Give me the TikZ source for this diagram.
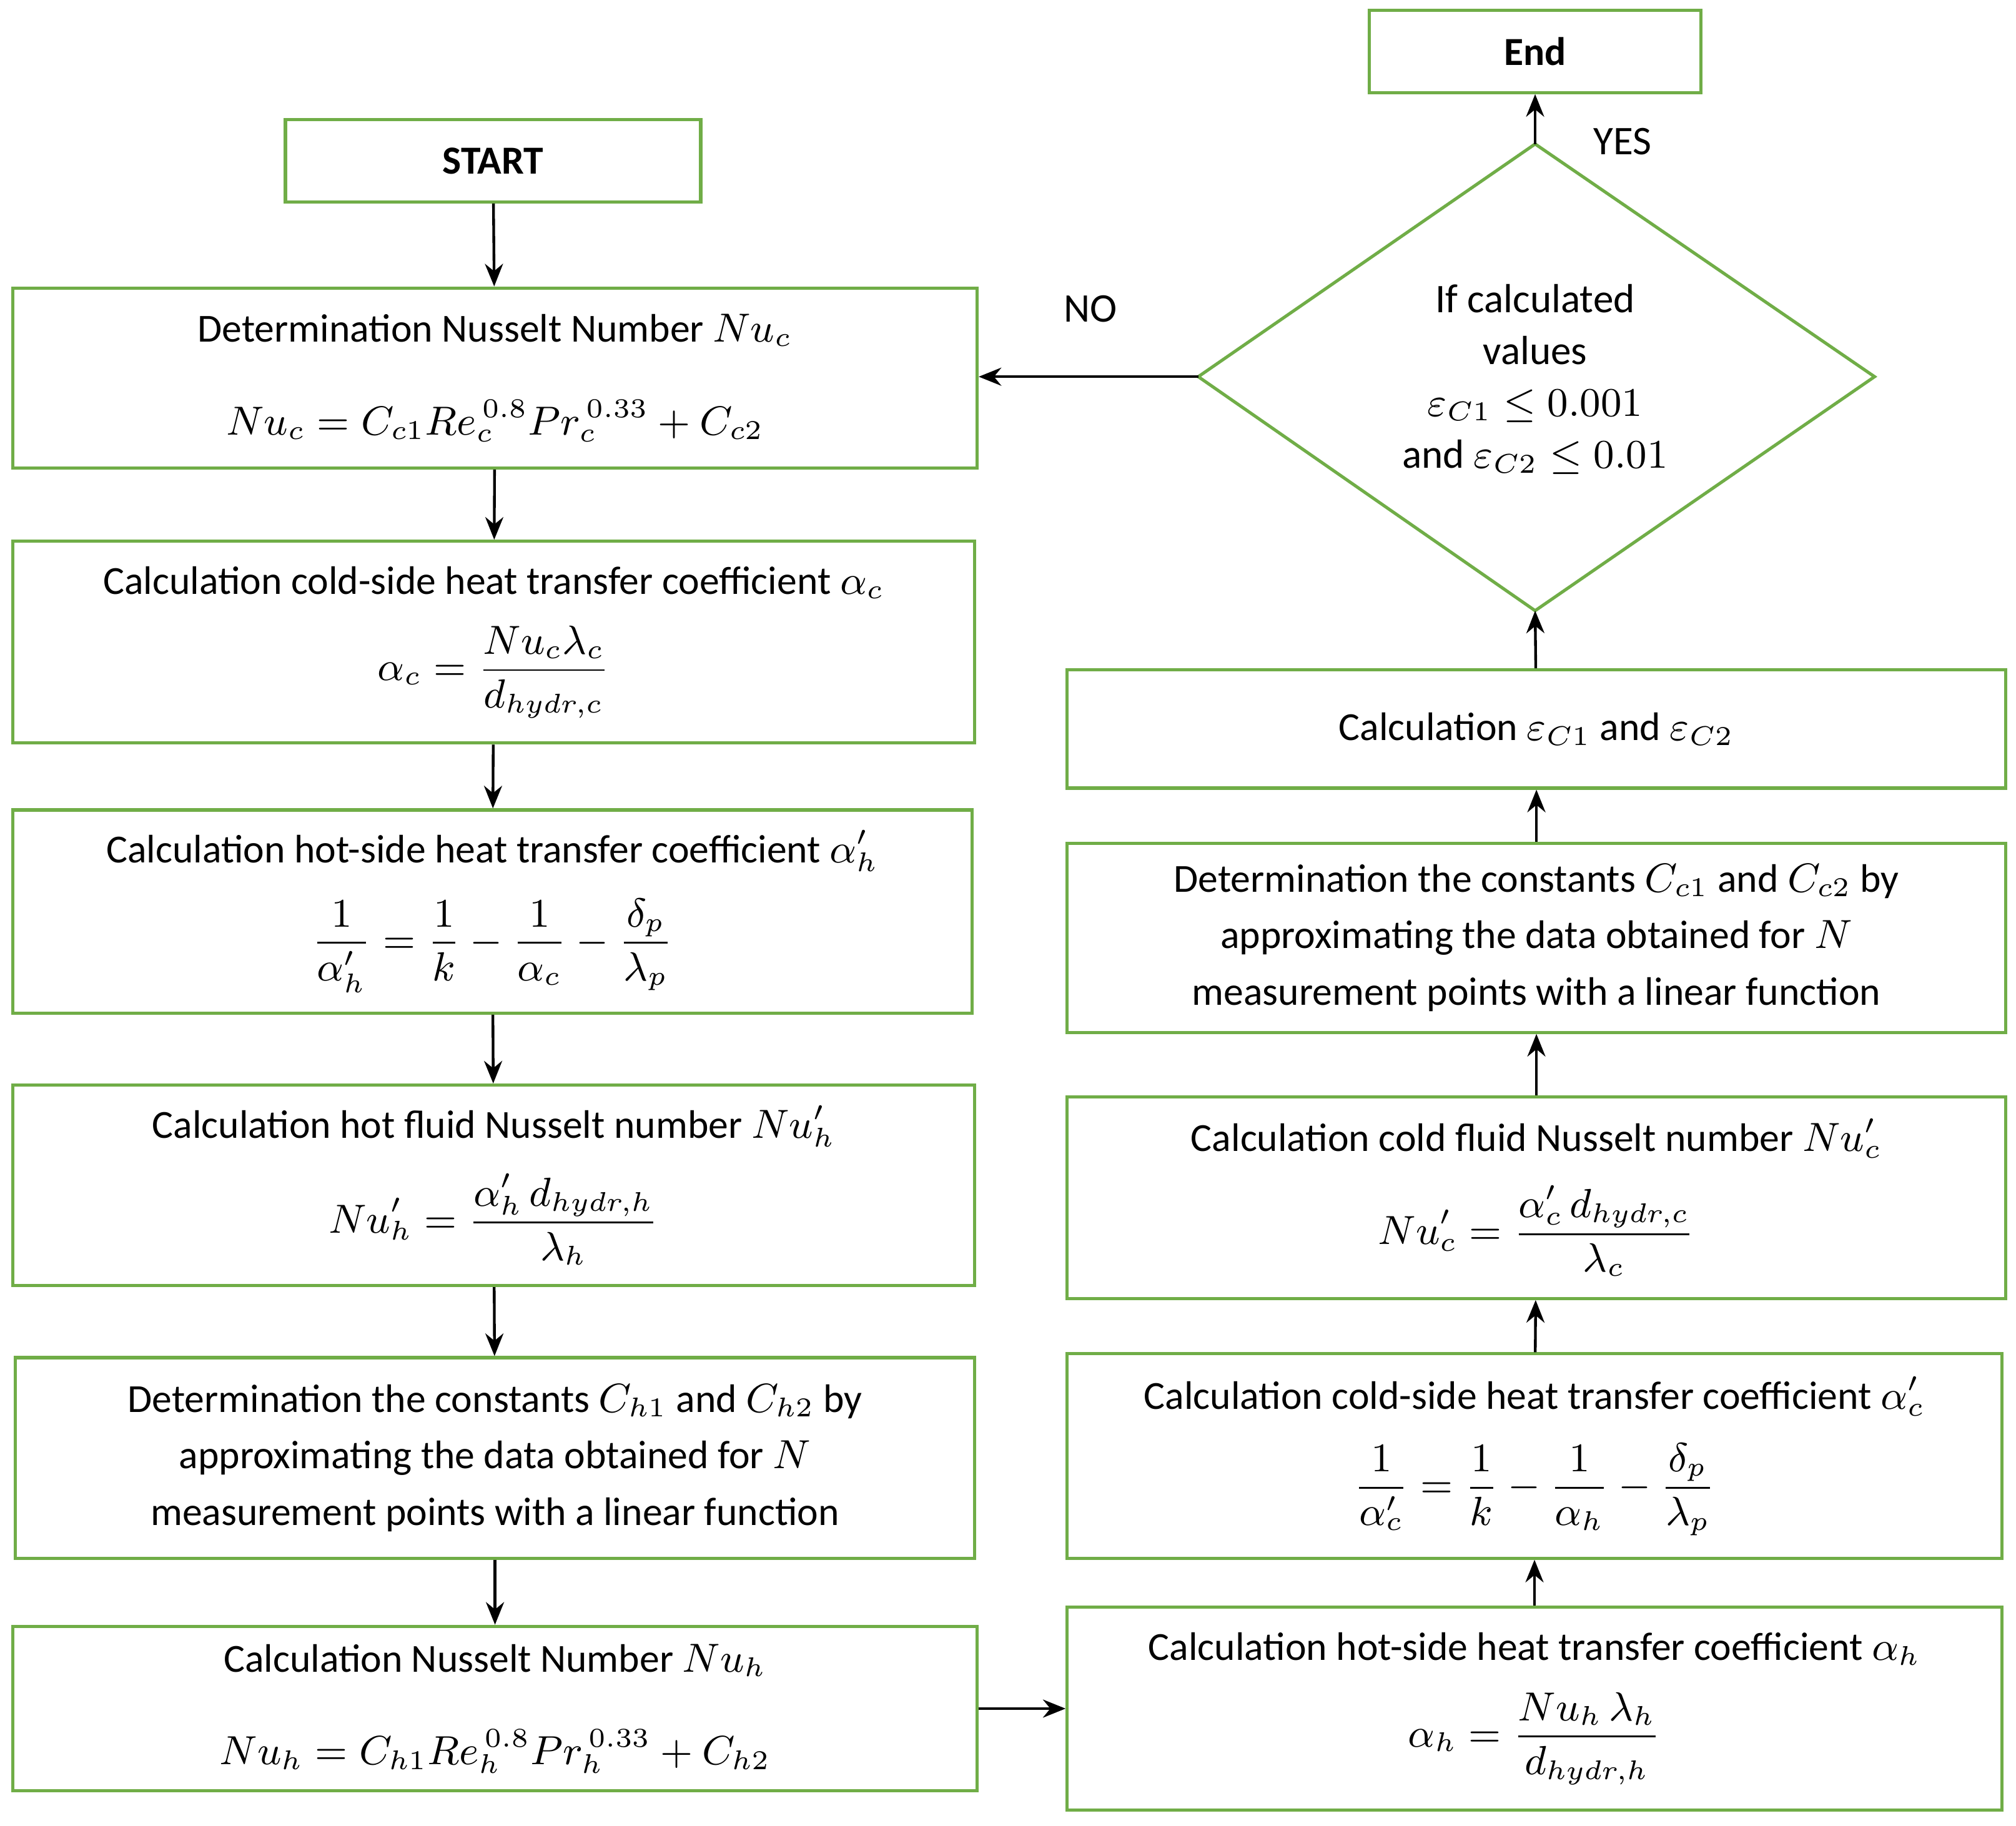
\documentclass[tikz,border=0pt]{standalone}
\usepackage{fontspec}
\setmainfont{Carlito}
\usetikzlibrary{arrows.meta,shapes.geometric}
\definecolor{gr}{RGB}{112,173,71}
\begin{document}
\begin{tikzpicture}[x=0.01cm,y=-0.01cm,
  box/.style={draw=gr,line width=0.7pt,align=center,inner sep=0pt,font=\fontsize{8.8}{12.5}\selectfont},
  arr/.style={-{Stealth[length=5pt,width=4pt]},line width=0.6pt,black},
  lbl/.style={font=\fontsize{9}{11.5}\selectfont}]
\useasboundingbox (0,0) rectangle (1568,1420);
\newcommand{\bx}[6]{\node[box,minimum width={(#4-#2)*0.01cm},minimum height={(#5-#3)*0.01cm}] (#1) at ({(#2+#4)/2},{(#3+#5)/2}) {#6};}
\bx{end}{1065}{8}{1323}{72}{\textbf{End}}
\bx{start}{222}{93}{545}{157}{\textbf{START}}
\bx{nuc}{10}{224}{760}{364}{Determination Nusselt Number $Nu_c$\\[8pt] $Nu_c=C_{c1}Re_c^{\,0.8}Pr_c^{\,0.33}+C_{c2}$}
\bx{ac}{10}{421}{758}{578}{Calculation cold-side heat transfer coefficient $\alpha_c$\\[5pt] $\displaystyle\alpha_c=\frac{Nu_c\lambda_c}{d_{hydr,c}}$}
\bx{ahp}{10}{630}{756}{788}{Calculation hot-side heat transfer coefficient $\alpha'_h$\\[5pt] $\displaystyle\frac{1}{\alpha'_h}=\frac{1}{k}-\frac{1}{\alpha_c}-\frac{\delta_p}{\lambda_p}$}
\bx{nuhp}{10}{844}{758}{1000}{Calculation hot fluid Nusselt number $Nu'_h$\\[5pt] $\displaystyle Nu'_h=\frac{\alpha'_h\,d_{hydr,h}}{\lambda_h}$}
\bx{ch}{12}{1056}{758}{1212}{Determination the constants $C_{h1}$ and $C_{h2}$ by\\ approximating the data obtained for $N$\\ measurement points with a linear function}
\bx{nuh}{10}{1265}{760}{1393}{Calculation Nusselt Number $Nu_h$\\[8pt] $Nu_h=C_{h1}Re_h^{\,0.8}Pr_h^{\,0.33}+C_{h2}$}
\bx{ah}{830}{1250}{1557}{1408}{Calculation hot-side heat transfer coefficient $\alpha_h$\\[5pt] $\displaystyle\alpha_h=\frac{Nu_h\,\lambda_h}{d_{hydr,h}}$}
\bx{acp}{830}{1053}{1557}{1212}{Calculation cold-side heat transfer coefficient $\alpha'_c$\\[5pt] $\displaystyle\frac{1}{\alpha'_c}=\frac{1}{k}-\frac{1}{\alpha_h}-\frac{\delta_p}{\lambda_p}$}
\bx{nucp}{830}{853}{1560}{1010}{Calculation cold fluid Nusselt number $Nu'_c$\\[5pt] $\displaystyle Nu'_c=\frac{\alpha'_c\,d_{hydr,c}}{\lambda_c}$}
\bx{cc}{830}{656}{1560}{803}{Determination the constants $C_{c1}$ and $C_{c2}$ by\\ approximating the data obtained for $N$\\ measurement points with a linear function}
\bx{eps}{830}{521}{1560}{613}{Calculation $\varepsilon_{C1}$ and $\varepsilon_{C2}$}
\coordinate (dt) at (1194,112); \coordinate (db) at (1194,475);
\coordinate (dl) at (932,293); \coordinate (dr) at (1458,293);
\draw[gr,line width=0.7pt] (dt) -- (dr) -- (db) -- (dl) -- cycle;
\node[lbl,align=center] (dtxt) at (1194,295) {If calculated\\ values\\ $\varepsilon_{C1}\le 0.001$\\ and $\varepsilon_{C2}\le 0.01$};
\node[lbl] (no) at (848,240) {NO};
\node[lbl] (yes) at (1262,110) {YES};
\draw[arr] (start) -- (nuc);
\draw[arr] (nuc) -- (ac);
\draw[arr] (ac) -- (ahp);
\draw[arr] (ahp) -- (nuhp);
\draw[arr] (nuhp) -- (ch);
\draw[arr] (ch) -- (nuh);
\draw[arr] (nuh.east) -- (nuh.east -| ah.west);
\draw[arr] (ah.north -| acp.north) -- (acp.south);
\draw[arr] (acp) -- (nucp);
\draw[arr] (nucp) -- (cc);
\draw[arr] (cc) -- (eps);
\draw[arr] (eps) -- (db);
\draw[arr] (dt) -- (end);
\draw[arr] (dl) -- (dl -| nuc.east);
\end{tikzpicture}
\end{document}
